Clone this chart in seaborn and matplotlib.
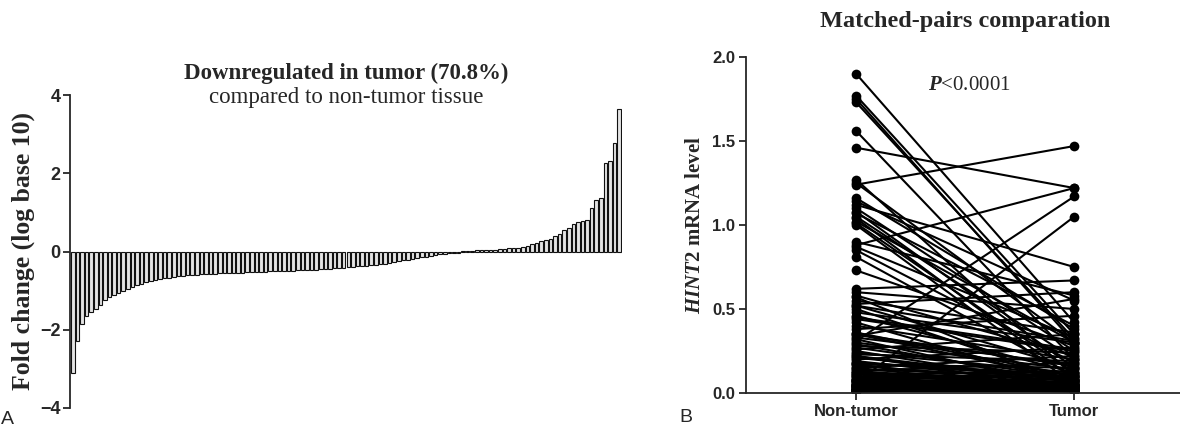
import matplotlib
matplotlib.use('Agg')
import matplotlib.pyplot as plt
import seaborn as sns
import pandas as pd

# panel A: fold change (log10) per sample, sorted
fold_down = [-3.1, -2.3, -1.85, -1.65, -1.55, -1.48, -1.38, -1.25, -1.17, -1.1,
             -1.05, -1.0, -0.95, -0.9, -0.86, -0.82, -0.79, -0.76, -0.73, -0.71,
             -0.69, -0.67, -0.65, -0.63, -0.62, -0.61, -0.6, -0.59, -0.58,
             -0.575, -0.57, -0.565, -0.56, -0.555, -0.55, -0.548,
             -0.545, -0.54, -0.535, -0.53, -0.525, -0.52, -0.515, -0.51, -0.505,
             -0.50, -0.50, -0.495, -0.49, -0.485, -0.48,
             -0.475, -0.47, -0.465, -0.46, -0.45, -0.44, -0.43, -0.42, -0.41, -0.40,
             -0.39, -0.38, -0.37, -0.36, -0.35, -0.34, -0.33, -0.31, -0.29, -0.27,
             -0.25, -0.23, -0.21, -0.19, -0.17, -0.15, -0.13, -0.11, -0.09, -0.07,
             -0.06, -0.05, -0.04, -0.03]
fold_up = [0.01, 0.02, 0.02, 0.03, 0.03, 0.04, 0.05, 0.05, 0.06, 0.07,
           0.08, 0.09, 0.10, 0.12, 0.14, 0.18, 0.22, 0.27, 0.29, 0.32,
           0.40, 0.45, 0.55, 0.60, 0.70, 0.75, 0.78, 0.80, 1.12, 1.32,
           1.38, 2.25, 2.32, 2.78, 3.65]
fold_change = fold_down + fold_up

# panel B: paired HINT2 mRNA levels
non_tumor = [1.90, 1.77, 1.75, 1.73, 1.56, 1.46, 1.27, 1.25, 1.24, 1.16,
             1.14, 1.12, 1.10, 1.08, 1.07, 1.05, 1.04, 1.02, 1.01, 1.00,
             0.90, 0.88, 0.87, 0.85, 0.81, 0.73, 0.62, 0.60, 0.58, 0.57,
             0.55, 0.53, 0.52, 0.50, 0.48, 0.46, 0.44, 0.42, 0.40, 0.38,
             0.36, 0.35, 0.34, 0.33, 0.32, 0.31, 0.30, 0.29, 0.28, 0.27,
             0.26, 0.25, 0.24, 0.23, 0.22, 0.21, 0.20, 0.19, 0.18, 0.17,
             0.17, 0.16, 0.15, 0.15, 0.14, 0.13, 0.13, 0.12, 0.12, 0.11,
             0.11, 0.10, 0.10, 0.09, 0.09, 0.08, 0.08, 0.08, 0.07, 0.07,
             0.07, 0.06, 0.06, 0.06, 0.05, 0.05, 0.05, 0.05, 0.04, 0.04,
             0.04, 0.04, 0.03, 0.03, 0.03, 0.03, 0.03, 0.02, 0.02, 0.02,
             0.02, 0.02, 0.02, 0.01, 0.01, 0.01, 0.01, 0.01, 0.01, 0.01,
             0.01, 0.03, 0.05, 0.08, 0.12, 0.18, 0.22, 0.35, 0.45, 0.52]
tumor = [0.42, 0.35, 0.30, 0.32, 0.20, 1.22, 0.10, 0.30, 1.47, 0.38,
         0.55, 0.75, 0.25, 0.15, 0.40, 0.20, 0.08, 0.30, 0.12, 0.05,
         0.58, 1.22, 0.33, 0.18, 0.10, 0.28, 0.67, 0.50, 0.22, 0.04,
         0.36, 0.60, 0.15, 0.07, 0.30, 0.12, 0.25, 0.05, 0.20, 0.46,
         0.10, 0.08, 0.56, 0.17, 0.03, 1.17, 0.14, 0.06, 0.24, 0.09,
         0.35, 0.04, 0.12, 0.19, 0.02, 0.08, 0.27, 0.05, 0.11, 0.03,
         0.15, 0.07, 0.22, 0.02, 0.10, 0.05, 0.18, 0.03, 0.08, 0.04,
         0.13, 0.02, 0.06, 0.10, 0.03, 0.05, 0.01, 0.12, 0.04, 0.02,
         0.08, 0.03, 0.06, 1.05, 0.02, 0.04, 0.09, 0.01, 0.03, 0.05,
         0.02, 0.07, 0.01, 0.04, 0.02, 0.06, 0.03, 0.01, 0.02, 0.04,
         0.03, 0.01, 0.05, 0.02, 0.01, 0.03, 0.02, 0.04, 0.02, 0.01,
         0.02, 0.04, 0.03, 0.06, 0.05, 0.09, 0.07, 0.16, 0.26, 0.31]
groups = ['Non-tumor', 'Tumor']

sns.set_style('ticks')
plt.rcParams['font.family'] = ['Liberation Sans', 'DejaVu Sans']
plt.rcParams['font.weight'] = 'bold'
plt.rcParams['mathtext.fontset'] = 'custom'
plt.rcParams['mathtext.rm'] = 'Liberation Serif'
plt.rcParams['mathtext.it'] = 'Liberation Serif:italic'
plt.rcParams['mathtext.bf'] = 'Liberation Serif:bold'
plt.rcParams['axes.linewidth'] = 1.3

W, H = 1180, 433
fig = plt.figure(figsize=(W / 100, H / 100), dpi=100)
ax1 = fig.add_axes([70 / W, 1 - 408 / H, 552 / W, 313 / H])
ax2 = fig.add_axes([746 / W, 1 - 393 / H, 434 / W, 336 / H])

# --- A: waterfall of fold change
df_a = pd.DataFrame({'sample': range(len(fold_change)), 'fold': fold_change})
sns.barplot(data=df_a, x='sample', y='fold', color='#e4e4e4', saturation=1,
            edgecolor='#111111', linewidth=0.8, width=0.78, ax=ax1)
ax1.set_ylim(-4, 4)
ax1.set_xlim(-0.6, len(fold_change) - 0.4)
ax1.set_yticks([-4, -2, 0, 2, 4])
ax1.set_xticks([])
ax1.set_xlabel('')
ax1.tick_params(axis='y', length=5, width=1.3, labelsize=13, pad=2)
for s in ['top', 'right', 'bottom']:
    ax1.spines[s].set_visible(False)
ax1.set_ylabel('Fold change (log base 10)', family='Liberation Serif',
               fontweight='bold', fontsize=18.5, va='center')
ax1.yaxis.set_label_coords(-0.085, 0.5)

fig.text(346 / W, 1 - 73 / H, 'Downregulated in tumor (70.8%)',
         family='Liberation Serif', fontweight='bold', fontsize=16.5,
         ha='center', va='center')
fig.text(346 / W, 1 - 97 / H, 'compared to non-tumor tissue',
         family='Liberation Serif', fontweight='normal', fontsize=16.5,
         ha='center', va='center')

# --- B: matched pairs
n = len(non_tumor)
df_b = pd.DataFrame({
    'pair': list(range(n)) * 2,
    'group': [groups[0]] * n + [groups[1]] * n,
    'level': non_tumor + tumor,
})
sns.lineplot(data=df_b, x='group', y='level', units='pair', estimator=None,
             color='black', linewidth=1.5, marker='o', markersize=7,
             markeredgewidth=0, ax=ax2)
ax2.set_ylim(0, 2.0)
ax2.set_xlim(-0.505, 1.485)
ax2.set_yticks([0, 0.5, 1.0, 1.5, 2.0])
ax2.set_yticklabels(['0.0', '0.5', '1.0', '1.5', '2.0'])
ax2.tick_params(length=5, width=1.3, labelsize=12, pad=3)
for s in ['top', 'right']:
    ax2.spines[s].set_visible(False)
ax2.set_xlabel('')
ax2.set_ylabel(r'$\mathit{HINT2}$ mRNA level', family='Liberation Serif',
               fontweight='bold', fontsize=15, va='center')
ax2.yaxis.set_label_coords((695 - 746) / 434, 0.5)
ax2.text(0.52, 1.83, r'$\mathit{P}$<0.0001', family='Liberation Serif',
         fontweight='normal', fontsize=15, ha='center', va='center')
fig.text(965 / W, 1 - 22 / H, 'Matched-pairs comparation',
         family='Liberation Serif', fontweight='bold', fontsize=17.5,
         ha='center', va='center')

fig.text(7 / W, 1 - 420 / H, 'A', fontweight='normal', fontsize=14,
         ha='center', va='center')
fig.text(686 / W, 1 - 418 / H, 'B', fontweight='normal', fontsize=14,
         ha='center', va='center')

fig.savefig('out.png', dpi=100, facecolor='white')
